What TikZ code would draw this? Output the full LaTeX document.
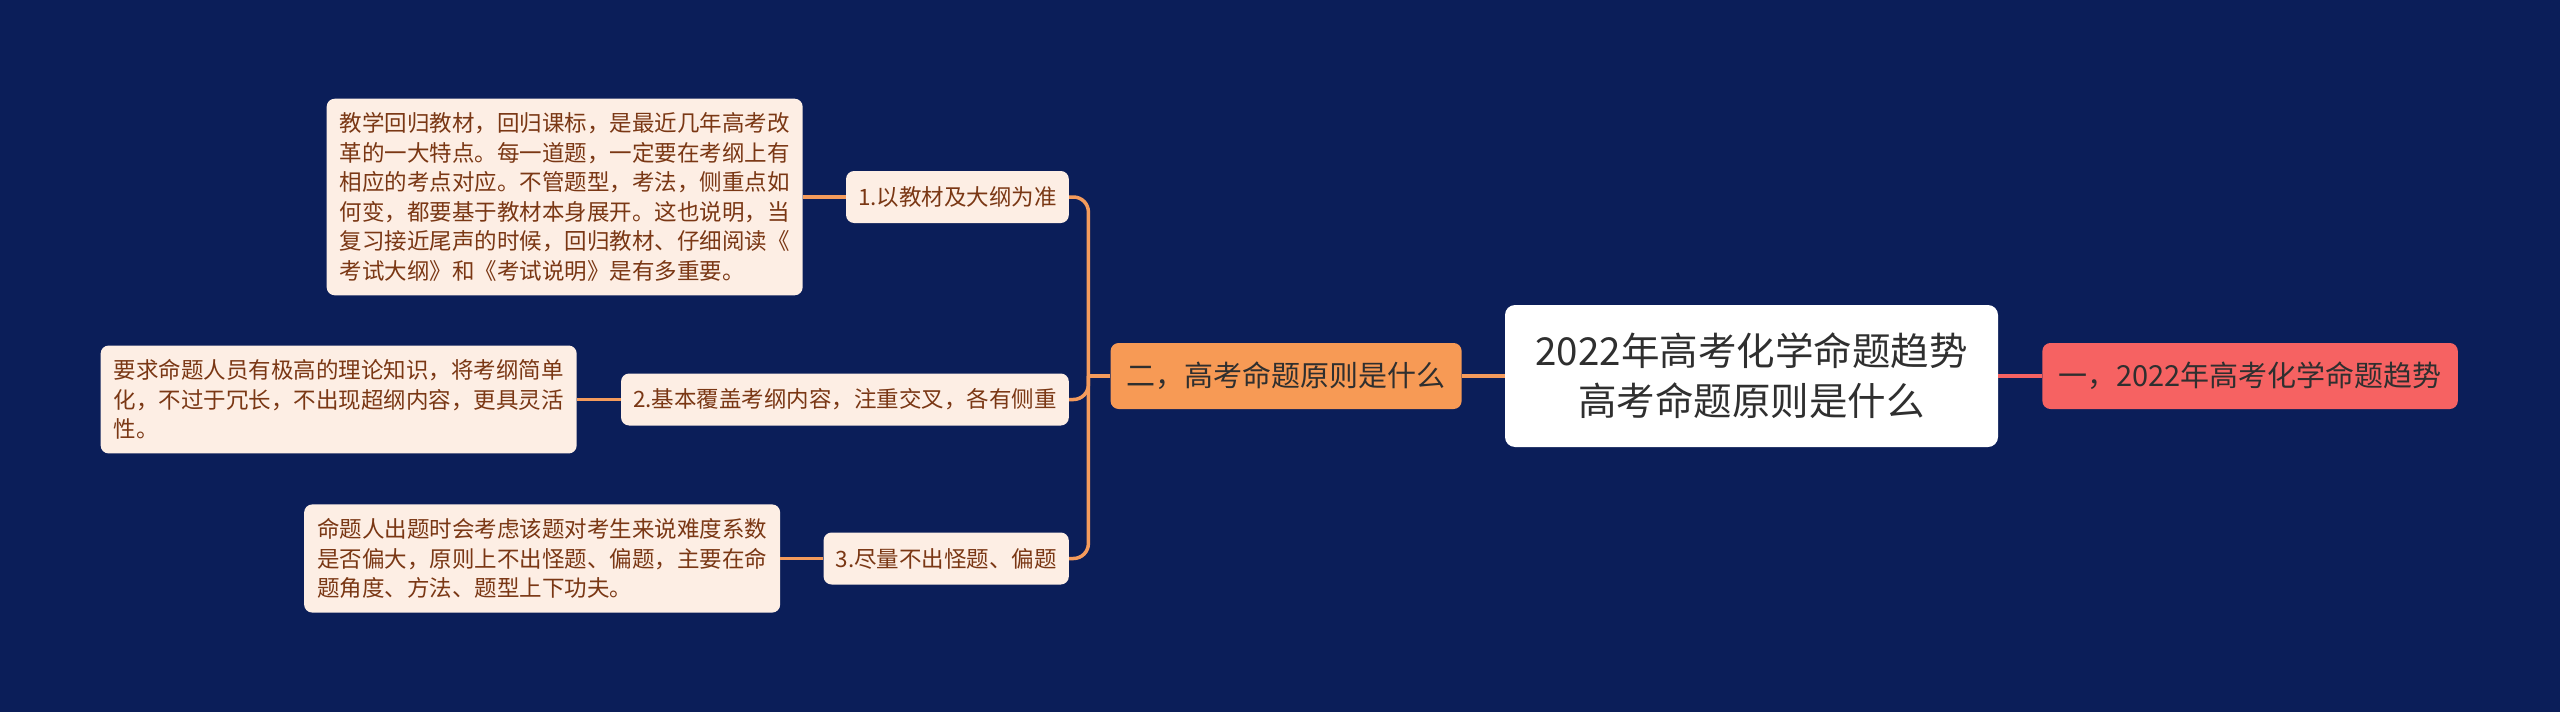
\documentclass[tikz,border=0pt]{standalone}
\usepackage{fontspec}
\setmainfont{Noto Sans CJK SC}
\usetikzlibrary{positioning}
\usepackage{xcolor}
\definecolor{bgnavy}{HTML}{0B1E59}
\definecolor{leaffill}{HTML}{FDEEE4}
\definecolor{leaftext}{HTML}{7A3714}
\definecolor{branchorange}{HTML}{F79A55}
\definecolor{branchred}{HTML}{F66262}
\definecolor{lineorange}{HTML}{F49B5C}
\definecolor{darktext}{HTML}{2F2F2F}

\begin{document}
\begin{tikzpicture}[x=1pt, y=-1pt,
  leaf/.style={fill=leaffill, text=leaftext, rounded corners=8pt, align=left, inner xsep=13pt, inner ysep=14pt, font=\fontsize{22.5}{29.5}\selectfont},
  sub/.style={leaf, minimum height=52pt, inner ysep=0pt, inner xsep=12pt},
  branch/.style={rounded corners=8pt, minimum height=66pt, inner xsep=16pt, text=darktext, font=\fontsize{29}{35}\selectfont},
  root/.style={fill=white, rounded corners=10pt, align=center, minimum width=493pt, minimum height=142pt, text=darktext, font=\fontsize{38.5}{50}\selectfont},
  link/.style={line width=3.5pt, lineorange, rounded corners=15pt}]
   \fill[bgnavy] (0,0) rectangle (2560,712);
   \node[root] (t_0) at (1751.5,376) {2022年高考化学命题趋势\\高考命题原则是什么};
   \node[branch, fill=branchorange] (b_2) [left=43pt of t_0] {二，高考命题原则是什么};
   \node[branch, fill=branchred] (b_1) [right=44pt of t_0] {一，2022年高考化学命题趋势};
   \node[sub, anchor=east] (s_1) at (1069,197) {1.以教材及大纲为准};
   \node[sub, anchor=east] (s_2) at (1069,399.5) {2.基本覆盖考纲内容，注重交叉，各有侧重};
   \node[sub, anchor=east] (s_3) at (1069,558.5) {3.尽量不出怪题、偏题};
   \node[leaf] (l_1) [left=43pt of s_1] {教学回归教材，回归课标，是最近几年高考改\\
     革的一大特点。每一道题，一定要在考纲上有\\
     相应的考点对应。不管题型，考法，侧重点如\\
     何变，都要基于教材本身展开。这也说明，当\\
     复习接近尾声的时候，回归教材、仔细阅读《\\
     考试大纲》和《考试说明》是有多重要。};
   \node[leaf] (l_2) [left=44pt of s_2] {要求命题人员有极高的理论知识，将考纲简单\\
     化，不过于冗长，不出现超纲内容，更具灵活\\
     性。};
   \node[leaf] (l_3) [left=43pt of s_3] {命题人出题时会考虑该题对考生来说难度系数\\
     是否偏大，原则上不出怪题、偏题，主要在命\\
     题角度、方法、题型上下功夫。};
   \coordinate (fork) at ([xshift=-22pt]b_2.west);
   \draw[link] (b_2.west) -- (fork);
   \foreach \i in {1,2,3} {
     \draw[link] (fork) |- (s_\i.east);
     \draw[link] (s_\i.west) -- (s_\i.west -| l_\i.east);
   }
   \draw[link] (b_2.east) -- (t_0.west);
   \draw[link, branchred] (t_0.east) -- (b_1.west);
\end{tikzpicture}
\end{document}
